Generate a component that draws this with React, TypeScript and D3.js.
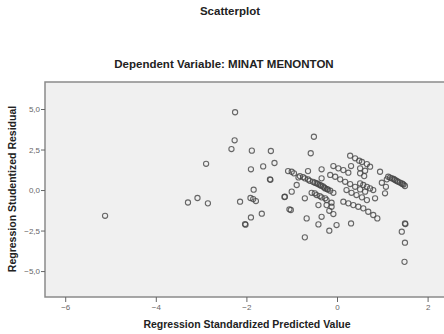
import React, { useEffect, useRef } from "react";
import * as d3 from "d3";

// Regression Standardized Predicted Value
const predicted: number[] = [
  -5.12, -3.29, -3.08, -2.85, -2.89, -2.25, -2.26, -2.33, -1.88, -1.46,
  -1.38, -1.9, -1.63, -1.48, -1.47, -1.08, -1.84, -1.91, -1.85, -1.79,
  -2.14, -1.16, -1.05, -1.66, -1.9, -2.03, -2.02,
  -0.51, -0.58, -0.34, -0.64, -1.0, -0.95, -0.89, -1.0, -1.15, -0.71,
  -1.02, -0.67, -0.41, -0.34, -0.17, -0.08, -0.01, -0.17, -0.71, 0.31,
  -0.41, -0.34, -0.85,
  0.29, 0.4, 0.49, 0.55, 0.66, 0.73, 0.31, 0.51, 0.6, 0.95,
  1.13, 1.17, 1.21, 1.25, 1.28, 1.32, 1.35, 1.39, 1.43, 1.45, 1.47, 1.5,
  0.99, 1.1, 1.08, 1.06, 0.84,
  1.5, 1.51, 1.43, 1.5, 1.49,
  -0.08, 0.03, 0.14, 0.25, 0.51, 0.62,
  0.51, 0.58, 0.66, 0.73, 0.8,
  -0.15, -0.04, 0.07, 0.18, 0.29, 0.4, 0.51, 0.62,
  -0.82, -0.75, -0.71, -0.64, -0.6, -0.53, -0.49, -0.42, -0.38, -0.31,
  -0.26, -0.2, -0.15, -0.08, -0.45, -0.35, -0.28, -0.22,
  -0.56, -0.45, -0.34, -0.23, -0.12, -0.49, -0.38, -0.26,
  0.21, 0.32, 0.43, 0.55, 0.66,
  0.14, 0.25, 0.36, 0.47, 0.58, 0.69, 0.8, 0.89,
  -0.23, -0.12,
];

// Regression Studentized Residual
const residual: number[] = [
  -1.59, -0.77, -0.49, -0.82, 1.62, 4.8, 3.07, 2.53, 2.43, 2.41,
  1.67, 1.28, 1.46, 0.66, 0.63, 1.17, 0.02, -0.49, -0.56, -0.68,
  -0.72, -0.43, -1.19, -1.46, -1.69, -2.1, -2.14,
  3.29, 2.27, 1.28, 1.17, 1.13, 1.03, 0.31, -0.1, -0.41, -0.51,
  -1.23, -1.75, -2.12, -1.65, -1.28, -1.48, -2.16, -2.51, -2.92, -2.06,
  -0.93, 0.72, 0.78,
  2.12, 1.96, 1.81, 1.73, 1.6, 1.44, 1.48, 1.03, 0.86, 1.13,
  0.82, 0.77, 0.72, 0.68, 0.62, 0.56, 0.51, 0.46, 0.41, 0.37, 0.34, 0.25,
  0.45, 0.66, 0.2, -0.2, -0.51,
  -2.06, -2.1, -2.57, -3.25, -4.43,
  1.48, 1.34, 1.23, 1.07, 1.34, 1.19,
  0.41, 0.31, 0.2, 0.1, 0.0,
  0.93, 0.82, 0.66, 0.51, 0.37, 0.2, 0.04, -0.1,
  0.86, 0.8, 0.72, 0.65, 0.57, 0.51, 0.45, 0.37, 0.31, 0.22,
  0.1, 0.03, -0.04, -0.17, 0.42, 0.27, 0.15, 0.06,
  -0.17, -0.31, -0.45, -0.62, -0.78, -0.2, -0.37, -0.51,
  0.0, -0.17, -0.31, -0.45, -0.62,
  -0.72, -0.82, -0.93, -1.03, -1.13, -1.34, -1.54, -1.75,
  -0.93, -1.03,
];

const xTicks = [-6, -4, -2, 0, 2];
const yTicks = [5, 2.5, 0, -2.5, -5];

const chartTitle = "Scatterplot";
const subTitle = "Dependent Variable: MINAT MENONTON";
const xLabel = "Regression Standardized Predicted Value";
const yLabel = "Regression Studentized Residual";

const App = () => {
  const ref = useRef<SVGSVGElement | null>(null);

  useEffect(() => {
    const svg = d3.select(ref.current);
    svg.selectAll("*").remove();

    const left = 45;
    const right = 446;
    const top = 82;
    const bottom = 297;

    const xScale = d3.scaleLinear().domain([-6.446, 2.406]).range([left, right]);
    const yScale = d3.scaleLinear().domain([-6.6, 6.667]).range([bottom, top]);

    const font = "'Liberation Sans', Arial, sans-serif";

    // titles
    svg
      .append("text")
      .attr("x", 230)
      .attr("y", 15)
      .attr("text-anchor", "middle")
      .style("font-family", font)
      .style("font-weight", "bold")
      .style("font-size", "11.5px")
      .attr("fill", "#222")
      .text(chartTitle);

    svg
      .append("text")
      .attr("x", 224)
      .attr("y", 68)
      .attr("text-anchor", "middle")
      .style("font-family", font)
      .style("font-weight", "bold")
      .style("font-size", "11.5px")
      .attr("fill", "#222")
      .text(subTitle);

    // plot area
    svg
      .append("rect")
      .attr("x", left)
      .attr("y", top)
      .attr("width", right - left)
      .attr("height", bottom - top)
      .attr("fill", "#f0f0f0");

    svg
      .append("path")
      .attr("d", `M${right},${top}H${left}V${bottom}H${right}`)
      .attr("fill", "none")
      .attr("stroke", "#8a8a8a")
      .attr("stroke-width", 1.5);

    // y axis
    const yAxis = svg
      .append("g")
      .attr("transform", `translate(${left},0)`)
      .call(
        d3
          .axisLeft(yScale)
          .tickValues(yTicks)
          .tickSize(4)
          .tickPadding(1)
          .tickFormat((d) => d3.format(".1f")(d as number).replace(".", ","))
      );
    yAxis.select(".domain").remove();
    yAxis.selectAll("line").attr("stroke", "#666");
    yAxis
      .selectAll("text")
      .attr("fill", "#666")
      .style("font-family", font)
      .style("font-size", "8px");

    // x axis
    const xAxis = svg
      .append("g")
      .attr("transform", `translate(0,${bottom})`)
      .call(d3.axisBottom(xScale).tickValues(xTicks).tickSize(5).tickPadding(2));
    xAxis.select(".domain").remove();
    xAxis.selectAll("line").attr("stroke", "#666");
    xAxis
      .selectAll("text")
      .attr("fill", "#666")
      .style("font-family", font)
      .style("font-size", "8px");

    // axis labels
    svg
      .append("text")
      .attr("x", 247)
      .attr("y", 328)
      .attr("text-anchor", "middle")
      .style("font-family", font)
      .style("font-weight", "bold")
      .style("font-size", "10.5px")
      .attr("fill", "#222")
      .text(xLabel);

    svg
      .append("text")
      .attr("transform", "translate(16,189) rotate(-90)")
      .attr("text-anchor", "middle")
      .style("font-family", font)
      .style("font-weight", "bold")
      .style("font-size", "10.5px")
      .attr("fill", "#222")
      .text(yLabel);

    // points
    svg
      .append("g")
      .selectAll("circle")
      .data(predicted)
      .enter()
      .append("circle")
      .attr("cx", (d) => xScale(d))
      .attr("cy", (d, i) => yScale(residual[i]))
      .attr("r", 2.6)
      .attr("fill", "none")
      .attr("stroke", "#444")
      .attr("stroke-opacity", 0.8)
      .attr("stroke-width", 1.1);
  }, []);

  return (
    <div style={{ position: "absolute", left: 0, top: 0 }}>
      <svg ref={ref} width={444} height={334} style={{ display: "block", background: "#fff" }} />
    </div>
  );
};

export default App;
